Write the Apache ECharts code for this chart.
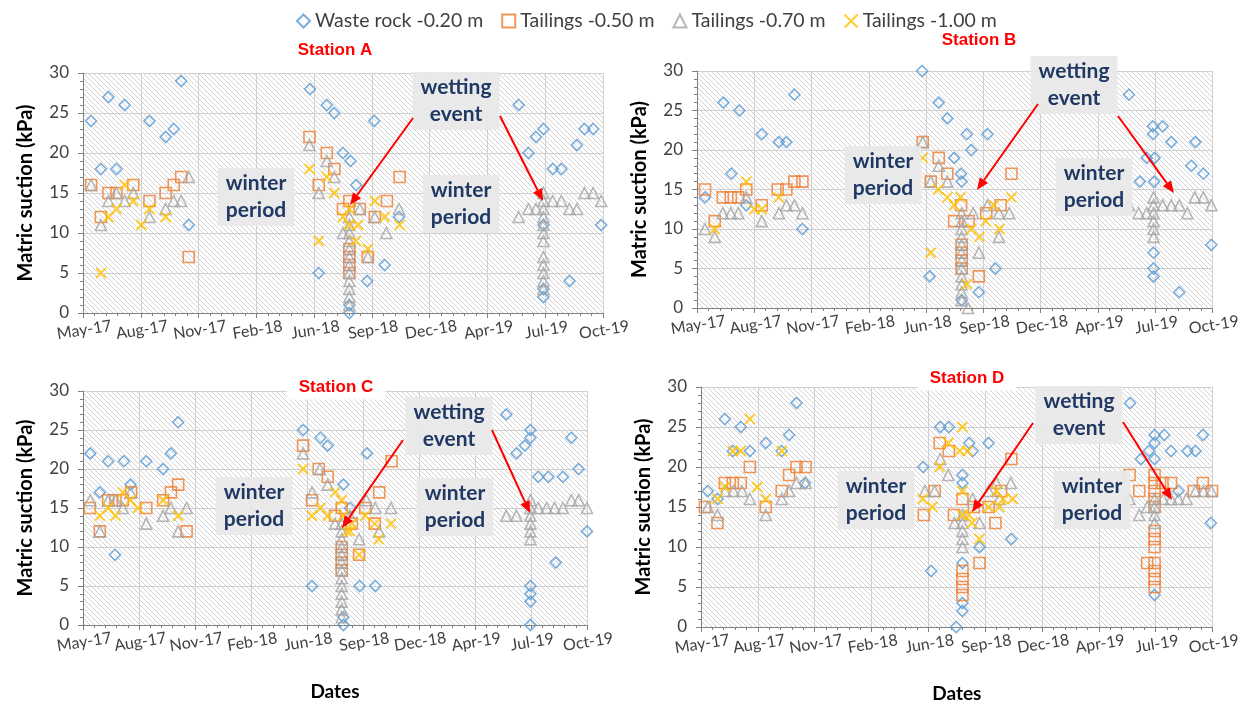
<!DOCTYPE html>
<html><head><meta charset="utf-8">
<script src="https://cdn.jsdelivr.net/npm/echarts@6/dist/echarts.min.js"></script>
<style>html,body{margin:0;padding:0;background:#fff}#c{width:1243px;height:704px}</style>
</head><body><div id="c"></div>
<script>
// ---------- DATA (x = days since 1 May 2017, y = matric suction kPa) ----------
const seriesNames = ['Waste rock -0.20 m', 'Tailings -0.50 m', 'Tailings -0.70 m', 'Tailings -1.00 m'];
const stations = ['Station A', 'Station B', 'Station C', 'Station D'];
const xTickStartDate = '2017-05-01';
const xTickDays = [0, 100, 200, 300, 400, 500, 600, 700, 800, 900];
const yTicks = [0, 5, 10, 15, 20, 25, 30];

const A_waste = [[14,24],[31,18],[44,27],[58,18],[72,26],[115,24],[143,22],[157,23],[170,29],[183,11],
  [393,28],[408,5],[422,26],[435,25],[450,20],[463,19],[473,16],[504,24],[492,4],[522,6],[547,12],[461,1],[461,0],
  [754,26],[771,20],[784,22],[797,23],[813,18],[828,18],[855,21],[868,23],[883,23],[897,11],[842,4],[797,11],[797,3],[797,2]];
const A_t050 = [[14,16],[31,12],[44,15],[58,15],[87,16],[115,14],[143,15],[157,16],[170,17],[183,7],
  [392,22],[408,16],[422,20],[435,18],[450,13],[461,14],[479,13],[505,12],[526,14],[548,17],[493,7],[461,8],[461,7],[461,6],[461,5]];
const A_t070 = [[14,16],[31,11],[44,14],[58,15],[72,14],[87,15],[115,12],[143,13],[157,14],[170,14],[183,17],
  [392,21],[408,15],[422,19],[435,17],[450,10],[479,13],[505,12],[525,10],[547,13],[493,7],
  [461,12],[461,11],[461,10],[461,9],[461,8],[461,7],[461,6],[461,5],[461,4],[461,3],[461,2],[461,1],
  [754,12],[771,13],[784,13],[813,14],[828,14],[842,13],[855,13],[868,15],[883,15],[897,14],
  [797,15],[797,14],[797,13],[797,12],[797,11],[797,10],[797,9],[797,7],[797,6],[797,5],[797,4],[797,3]];
const A_t100 = [[31,5],[44,12],[58,13],[72,16],[87,14],[101,11],[115,13],[143,12],
  [392,18],[408,9],[422,17],[435,15],[450,12],[461,13],[461,11],[476,11],[472,9],[493,8],[505,14],[522,12],[548,11]];

const B_waste = [[14,14],[46,26],[60,17],[74,25],[86,13],[113,22],[143,21],[156,21],[170,27],[184,10],
  [393,30],[406,4],[422,26],[437,24],[449,19],[461,17],[462,16],[471,22],[479,20],[507,22],[521,5],[492,2],[462,1],
  [754,27],[796,23],[813,23],[796,22],[828,21],[870,21],[785,19],[799,19],[863,18],[884,17],[773,16],[798,16],[898,8],[797,7],[797,5],[797,4],[842,2]];
const B_t050 = [[14,15],[31,11],[45,14],[59,14],[72,14],[86,15],[113,13],[141,15],[156,15],[170,16],[184,16],
  [394,21],[422,19],[437,17],[408,16],[461,13],[449,11],[474,11],[505,12],[530,13],[549,17],[492,4],[462,8],[462,7],[462,6],[462,5]];
const B_t070 = [[14,10],[31,9],[45,12],[59,12],[72,12],[86,14],[113,11],[143,12],[156,13],[170,13],[184,12],
  [394,21],[422,18],[437,16],[408,16],[482,12],[507,13],[527,12],[545,12],[527,9],[492,7],
  [462,12],[462,11],[462,10],[462,9],[462,8],[462,7],[462,6],[462,5],[462,4],[462,3],[462,2],[462,1],[473,0],
  [754,13],[771,12],[785,12],[813,13],[828,13],[842,13],[856,12],[869,14],[884,14],[898,13],
  [797,14],[797,13],[797,12],[797,11],[797,10],[797,9]];
const B_t100 = [[31,10],[86,16],[100,12.5],[113,12.5],[143,14],
  [394,19],[408,7],[421,15],[437,14],[449,13],[460,14],[479,10],[493,9],[504,11],[518,13],[528,10],[549,14],[471,3]];

const C_waste = [[13,22],[30,17],[45,21],[57,9],[73,21],[85,18],[113,21],[143,20],[157,22],[170,26],
  [393,25],[409,5],[424,24],[437,23],[465,18],[507,22],[494,5],[522,5],[465,1],[465,0],[477,15],
  [756,27],[774,22],[789,23],[799,24],[799,25],[813,19],[831,19],[857,19],[872,24],[885,20],[900,12],[844,8],[799,5],[799,4],[799,3],[799,0]];
const C_t050 = [[12,15],[30,12],[45,16],[58,16],[71,16],[86,17],[113,15],[143,16],[157,17],[170,18],[185,12],
  [393,23],[409,16],[421,20],[437,19],[450,14],[462,15],[480,13],[504,15],[521,13],[529,17],[551,21],[493,9],[462,10],[462,9],[462,8],[462,7]];
const C_t070 = [[13,16],[30,12],[45,16],[58,16],[71,15],[85,17],[113,13],[143,14],[157,15],[170,12],[185,15],
  [393,22],[409,17],[423,20],[437,18],[450,13],[477,14],[506,16],[522,15],[550,15],[529,12],[493,11],
  [462,13],[462,12],[462,11],[462,10],[462,9],[462,8],[462,7],[462,6],[462,5],[462,4],[462,3],[462,2],[462,1],
  [756,14],[774,14],[813,15],[828,15],[842,15],[857,15],[872,16],[885,16],[900,15],
  [799,16],[799,15],[799,14],[799,13],[799,12],[799,11]];
const C_t100 = [[30,14],[45,15],[58,14],[71,17],[85,16],[98,15],[143,16],[170,14],
  [393,20],[409,14],[424,15],[437,14],[450,17],[462,16],[465,14],[471,12],[480,13],[477,12],[504,14],[521,13],[528,11],[550,13],[493,9]];

const D_waste = [[12,17],[29,16],[42,26],[56,22],[70,25],[86,22],[114,23],[142,22],[155,24],[168,28],[183,18],
  [391,20],[405,7],[421,25],[436,25],[472,23],[478,22],[506,23],[460,19],[460,18],[490,10],[546,11],[460,8],[460,3],[460,2],[449,0],
  [755,28],[798,24],[815,24],[798,23],[788,22],[774,21],[798,21],[827,22],[856,22],[870,22],[883,24],[897,13],[840,17],[798,4]];
const D_t050 = [[7,15],[29,13],[42,18],[56,18],[70,18],[86,20],[114,15],[142,17],[155,19],[168,20],[184,20],
  [392,14],[411,17],[420,23],[436,22],[546,21],[528,17],[506,15],[518,13],[445,14],[480,15],[460,16],[490,8],[460,7],[460,6],[460,5],[460,4],
  [754,19],[771,17],[785,8],[812,18],[827,18],[867,17],[883,18],[899,17],
  [798,19],[798,18],[798,17],[798,16],[798,15],[798,12],[798,11],[798,10],[798,8],[798,7],[798,6],[798,5]];
const D_t070 = [[12,15],[29,14],[43,17],[57,17],[72,17],[86,16],[114,14],[142,16],[155,17],[168,18],[184,18],
  [394,17],[411,17],[421,21],[435,19],[520,18],[545,18],[506,17],[525,16],[478,16],[490,13],[446,13],
  [460,14],[460,13],[460,12],[460,11],[460,10],
  [754,16],[771,14],[785,15],[813,16],[827,16],[840,16],[854,16],[870,17],[884,17],[898,17],
  [798,16],[798,15],[798,14],[798,13]];
const D_t100 = [[29,16],[42,17.5],[56,22],[70,22],[86,26],[99,17.5],[114,16],[142,22],
  [390,16],[407,15],[420,20],[435,23],[455,22],[469,22],[460,25],[460,17],[460,14],[471,14],[477,13],[520,17],[548,16],[506,15],[525,15],[490,11],[532,16]];

const stationData = [
  [A_waste, A_t050, A_t070, A_t100],
  [B_waste, B_t050, B_t070, B_t100],
  [C_waste, C_t050, C_t070, C_t100],
  [D_waste, D_t050, D_t070, D_t100]
];

// ---------- LAYOUT / STYLE ----------
const FONT = 'Lato, "Open Sans", sans-serif';
const DAY0 = Date.parse(xTickStartDate + 'T00:00:00Z');
const MONTHS = ['Jan','Feb','Mar','Apr','May','Jun','Jul','Aug','Sep','Oct','Nov','Dec'];
function fmtDate(v) {
  const d = new Date(DAY0 + v * 86400000);
  return MONTHS[d.getUTCMonth()] + '-' + String(d.getUTCFullYear() % 100).padStart(2, '0');
}
const grids = [
  {left: 83, top: 73, width: 520, height: 240},
  {left: 697, top: 71, width: 538, height: 237},
  {left: 83, top: 391, width: 504, height: 234},
  {left: 701, top: 387, width: 532, height: 240}
];
const colors = ['#5B9BD5', '#ED7D31', '#A5A5A5', '#FFC000'];
const symbols = ['diamond', 'rect', 'triangle', 'path://M0,0L10,10M10,0L0,10'];
const sizes = [11, 11, 11, 10];

function hatch() {
  const n = 5, c = document.createElement('canvas');
  c.width = n; c.height = n;
  const g = c.getContext('2d');
  g.fillStyle = '#ffffff'; g.fillRect(0, 0, n, n);
  g.strokeStyle = '#d2d2d2'; g.lineWidth = 1;
  g.beginPath();
  g.moveTo(-1, -1); g.lineTo(n + 1, n + 1);
  g.moveTo(-n - 1, -1); g.lineTo(1, n + 1);
  g.moveTo(n - 1, -1 - n); g.lineTo(2 * n + 1, n + 1);
  g.stroke();
  return c;
}
const pattern = {image: hatch(), repeat: 'repeat'};

const xAxes = [], yAxes = [], series = [];
grids.forEach((g, i) => {
  xAxes.push({
    type: 'value', gridIndex: i, min: xTickDays[0], max: xTickDays[xTickDays.length - 1], interval: 100,
    name: i >= 2 ? 'Dates' : '', nameLocation: 'middle', nameGap: 57,
    nameTextStyle: {fontFamily: FONT, fontWeight: 'bold', fontSize: 19, color: '#000'},
    axisLine: {show: true, onZero: false, lineStyle: {color: '#808080', width: 1}},
    axisTick: {show: true, length: 5, lineStyle: {color: '#808080'}},
    minorTick: {show: true, splitNumber: 5, length: 3, lineStyle: {color: '#808080'}},
    splitLine: {show: true, lineStyle: {color: '#d0d0d0', width: 1}},
    axisLabel: {formatter: fmtDate, rotate: 9, align: 'center', verticalAlign: 'top', margin: 9,
      fontFamily: FONT, fontSize: 16, color: '#404040'}
  });
  yAxes.push({
    type: 'value', gridIndex: i, min: yTicks[0], max: yTicks[yTicks.length - 1], interval: 5,
    name: 'Matric suction (kPa)', nameLocation: 'middle', nameGap: 47,
    nameTextStyle: {fontFamily: FONT, fontWeight: 'bold', fontSize: 20, color: '#000'},
    axisLine: {show: true, lineStyle: {color: '#808080', width: 1}},
    axisTick: {show: true, length: 5, lineStyle: {color: '#808080'}},
    minorTick: {show: true, splitNumber: 5, length: 3, lineStyle: {color: '#808080'}},
    splitLine: {show: true, lineStyle: {color: '#d0d0d0', width: 1}},
    axisLabel: {margin: 14, fontFamily: FONT, fontSize: 17, color: '#404040'}
  });
  stationData[i].forEach((d, k) => {
    series.push({
      type: 'scatter', name: seriesNames[k], xAxisIndex: i, yAxisIndex: i, data: d,
      symbol: symbols[k], symbolSize: sizes[k],
      itemStyle: {color: 'rgba(0,0,0,0)', borderColor: colors[k], borderWidth: k === 3 ? 2 : 1.6},
      emphasis: {disabled: true}, z: 2 + k
    });
  });
});

// ---------- ANNOTATIONS ----------
const graphics = [];
function box(x, y, text) {
  graphics.push({type: 'text', x: x, y: y, z: 50, silent: true,
    style: {text: text, align: 'center', verticalAlign: 'middle', textAlign: 'center', textVerticalAlign: 'middle',
      font: 'bold 21px ' + FONT, fill: '#1F3864', lineHeight: 27,
      backgroundColor: 'rgba(232,232,232,0.92)', padding: [2, 8, 2, 8]}});
}
function arrow(x1, y1, x2, y2) {
  const a = Math.atan2(y2 - y1, x2 - x1), L = 12, W = 5;
  const bx = x2 - L * Math.cos(a), by = y2 - L * Math.sin(a);
  graphics.push({type: 'line', z: 60, silent: true, shape: {x1: x1, y1: y1, x2: bx, y2: by},
    style: {stroke: '#FF0000', lineWidth: 2}});
  graphics.push({type: 'polygon', z: 60, silent: true,
    shape: {points: [[x2, y2], [bx - W * Math.sin(a), by + W * Math.cos(a)], [bx + W * Math.sin(a), by - W * Math.cos(a)]]},
    style: {fill: '#FF0000'}});
}
function stationTitle(x, y, text) {
  graphics.push({type: 'text', x: x, y: y, z: 55, silent: true,
    style: {text: text, align: 'center', verticalAlign: 'middle', textAlign: 'center', textVerticalAlign: 'middle',
      font: 'bold 17px "Liberation Sans", Arial, sans-serif', fill: '#FF0000',
      backgroundColor: '#ffffff', padding: [4, 12, 4, 12]}});
}
stationTitle(335, 50, stations[0]);
stationTitle(979, 40, stations[1]);
stationTitle(336, 387, stations[2]);
stationTitle(967, 378, stations[3]);
// Station A
box(256, 197, 'winter\nperiod'); box(461, 204, 'winter\nperiod'); box(456, 101, 'wetting\nevent');
arrow(413, 118, 350, 205); arrow(500, 116, 543, 201);
// Station B
box(883, 175, 'winter\nperiod'); box(1094, 187, 'winter\nperiod'); box(1074, 85, 'wetting\nevent');
arrow(1038, 104, 977, 190); arrow(1118, 116, 1174, 193);
// Station C
box(254, 506, 'winter\nperiod'); box(455, 507, 'winter\nperiod'); box(449, 426, 'wetting\nevent');
arrow(403, 440, 342, 528); arrow(492, 430, 530, 513);
// Station D
box(876, 500, 'winter\nperiod'); box(1092, 500, 'winter\nperiod'); box(1079, 415, 'wetting\nevent');
arrow(1033, 423, 972, 512); arrow(1123, 422, 1172, 500);

const chart = echarts.init(document.getElementById('c'), null, {renderer: 'canvas'});
chart.setOption({
  animation: false,
  backgroundColor: '#ffffff',
  legend: {
    data: seriesNames, left: 291, top: 6, itemGap: 18, itemWidth: 13, itemHeight: 13,
    textStyle: {fontFamily: FONT, fontSize: 19.5, color: '#404040'}
  },
  grid: grids.map(g => Object.assign({show: true, backgroundColor: pattern, borderWidth: 0}, g)),
  xAxis: xAxes,
  yAxis: yAxes,
  series: series,
  graphic: graphics
});
</script></body></html>
